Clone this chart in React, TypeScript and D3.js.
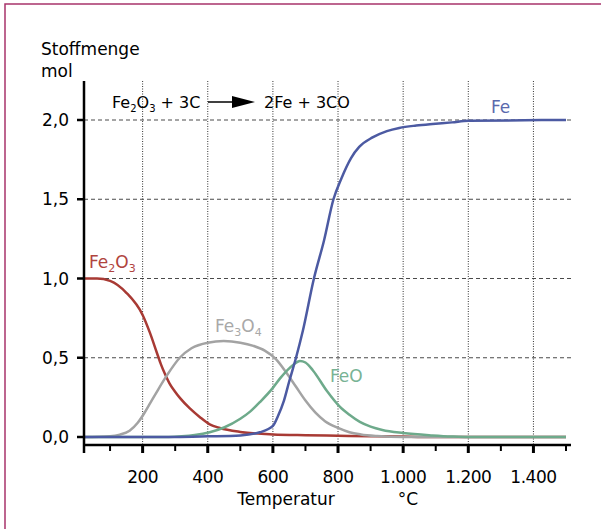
import React from 'react';
import * as d3 from 'd3';

// temperature (°C) / amount (mol) per species
const fe2o3T = [20, 60, 100, 150, 200, 222, 244, 256, 268, 282, 298, 315, 345, 376, 406, 437, 500, 600, 700, 800, 900, 1000, 1060, 1500];
const fe2o3 = [1.0, 1.0, 0.985, 0.91, 0.77, 0.66, 0.53, 0.46, 0.4, 0.34, 0.29, 0.245, 0.18, 0.125, 0.08, 0.057, 0.032, 0.016, 0.011, 0.008, 0.005, 0.003, 0, 0];

const fe3o4T = [20, 100, 130, 160, 185, 205, 225, 245, 275, 314, 350, 400, 449, 500, 540, 575, 610, 640, 670, 700, 730, 760, 800, 835, 870, 920, 1000, 1500];
const fe3o4 = [0, 0.005, 0.015, 0.04, 0.09, 0.15, 0.22, 0.29, 0.39, 0.5, 0.56, 0.595, 0.605, 0.595, 0.575, 0.545, 0.49, 0.41, 0.32, 0.23, 0.155, 0.1, 0.057, 0.03, 0.016, 0.006, 0, 0];

const feoT = [20, 280, 320, 360, 406, 450, 500, 530, 560, 600, 622, 662, 683, 700, 723, 766, 806, 835, 867, 900, 936, 1000, 1090, 1150, 1200, 1500];
const feo = [0, 0, 0.004, 0.012, 0.03, 0.06, 0.115, 0.16, 0.22, 0.31, 0.37, 0.455, 0.48, 0.47, 0.42, 0.29, 0.19, 0.14, 0.095, 0.065, 0.044, 0.025, 0.01, 0.003, 0, 0];

const feT = [20, 300, 400, 500, 560, 600, 615, 634, 650, 671, 692, 726, 757, 786, 810, 840, 865, 906, 950, 988, 1040, 1090, 1150, 1200, 1500];
const fe = [0, 0, 0.004, 0.01, 0.03, 0.07, 0.13, 0.23, 0.35, 0.5, 0.67, 1.0, 1.24, 1.5, 1.63, 1.76, 1.83, 1.89, 1.93, 1.95, 1.965, 1.975, 1.985, 1.995, 2.0];

const xMajor = [200, 400, 600, 800, 1000, 1200, 1400];
const xMinor = [100, 300, 500, 700, 900, 1100, 1300, 1500];
const yTicks = [0, 0.5, 1, 1.5, 2];

const de = d3.formatLocale({ decimal: ',', thousands: '.', grouping: [3], currency: ['', ' €'] });
const fmtX = de.format(',d');
const fmtY = de.format('.1f');

const FONT = '"DejaVu Sans", sans-serif';
const FS = 17;

function Chem({ x, y, parts, fill, size = FS }) {
  // parts: [text, isSub]
  const sub = Math.round(size * 0.63);
  return (
    <text x={x} y={y} fill={fill} fontFamily={FONT} fontSize={size}>
      {parts.map((p, i) => (
        <tspan key={i} fontSize={p[1] ? sub : size} dy={p[1] ? 4 : (i > 0 && parts[i - 1][1] ? -4 : 0)}>{p[0]}</tspan>
      ))}
    </text>
  );
}

export default function App() {
  const x = d3.scaleLinear().domain([20, 1500]).range([84, 566]);
  const y = d3.scaleLinear().domain([0, 2]).range([437, 120]);

  const line = d3.line().x(d => x(d[0])).y(d => y(d[1])).curve(d3.curveMonotoneX);
  const series = [
    { t: fe2o3T, v: fe2o3, color: '#a83a34' },
    { t: fe3o4T, v: fe3o4, color: '#a3a3a3' },
    { t: feoT, v: feo, color: '#6eaa8b' },
    { t: feT, v: fe, color: '#4c5aa2' },
  ];

  const axisTop = 81;
  const axisY = 445;

  return (
    <svg width={601} height={529} style={{ position: 'absolute', left: 0, top: 0, background: '#fff' }}>
      <rect x={5} y={4} width={700} height={700} fill="none" stroke="#a8336b" strokeWidth={1.5} />

      {/* grid */}
      {yTicks.filter(v => v > 0).map(v => (
        <line key={'h' + v} x1={84} x2={573} y1={y(v)} y2={y(v)} stroke="#4a4a4a" strokeWidth={1} strokeDasharray="4,3" />
      ))}
      {xMajor.map(t => (
        <line key={'v' + t} x1={x(t)} x2={x(t)} y1={axisTop} y2={axisY} stroke="#333" strokeWidth={1} strokeDasharray="1,1.5" />
      ))}

      {/* curves */}
      {series.map((s, i) => (
        <path key={i} d={line(s.t.map((t, j) => [t, s.v[j]]))} fill="none" stroke={s.color} strokeWidth={2.5} />
      ))}

      {/* axes */}
      <line x1={84} x2={84} y1={axisTop} y2={453} stroke="#000" strokeWidth={2.5} />
      <line x1={83} x2={571} y1={axisY} y2={axisY} stroke="#000" strokeWidth={2.5} />
      {yTicks.map(v => (
        <g key={'yt' + v}>
          <line x1={77} x2={84} y1={y(v)} y2={y(v)} stroke="#000" strokeWidth={2.5} />
          <text x={69} y={y(v) + 6} textAnchor="end" fontFamily={FONT} fontSize={FS}>{fmtY(v)}</text>
        </g>
      ))}
      {xMajor.map(t => (
        <g key={'xt' + t}>
          <line x1={x(t)} x2={x(t)} y1={axisY} y2={453} stroke="#000" strokeWidth={3} />
          <text x={x(t)} y={483} textAnchor="middle" fontFamily={FONT} fontSize={FS} letterSpacing={-0.5}>{fmtX(t)}</text>
        </g>
      ))}
      {xMinor.map(t => (
        <line key={'xm' + t} x1={x(t)} x2={x(t)} y1={axisY} y2={451} stroke="#000" strokeWidth={2} />
      ))}

      {/* axis titles */}
      <text x={41} y={55} fontFamily={FONT} fontSize={FS}>Stoffmenge</text>
      <text x={41} y={77} fontFamily={FONT} fontSize={FS}>mol</text>
      <text x={286} y={505} textAnchor="middle" fontFamily={FONT} fontSize={FS}>Temperatur</text>
      <text x={408} y={505} textAnchor="middle" fontFamily={FONT} fontSize={FS}>°C</text>

      {/* reaction equation */}
      <Chem x={112} y={108} fill="#000" size={16} parts={[['Fe', 0], ['2', 1], ['O', 0], ['3', 1], [' + 3C', 0]]} />
      <line x1={208} x2={236} y1={102} y2={102} stroke="#000" strokeWidth={1.5} />
      <path d="M232,96 L255,102 L232,108 Z" fill="#000" />
      <text x={264} y={108} fontFamily={FONT} fontSize={16}>2Fe + 3CO</text>

      {/* series labels */}
      <Chem x={89} y={268} fill="#b0443e" parts={[['Fe', 0], ['2', 1], ['O', 0], ['3', 1]]} />
      <Chem x={215} y={332} fill="#a8a8a8" parts={[['Fe', 0], ['3', 1], ['O', 0], ['4', 1]]} />
      <Chem x={330} y={382} fill="#78b395" parts={[['FeO', 0]]} />
      <Chem x={491} y={113} fill="#5a69ad" parts={[['Fe', 0]]} />
    </svg>
  );
}
